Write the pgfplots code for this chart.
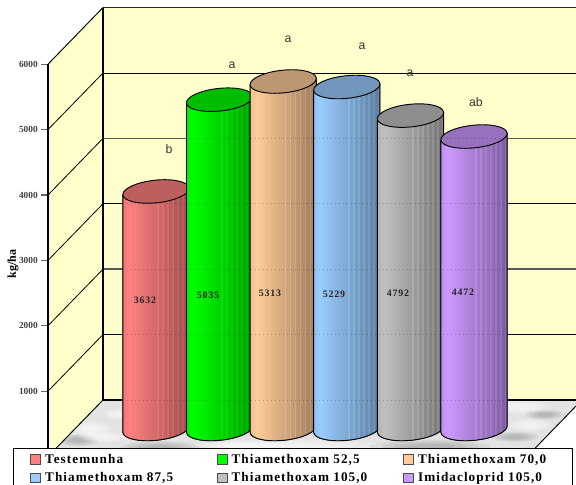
\documentclass[border=0pt]{standalone}
\usepackage{fontspec}
\setmainfont{Liberation Serif}
\newfontfamily\spaced[LetterSpace=8]{Liberation Serif}
\newfontfamily\lettersans{Liberation Sans}
\usepackage{pgfplots}
\pgfplotsset{compat=1.18}
\usepackage{pgfplotstable}

\definecolor{wall}{HTML}{FFFFCC}
\definecolor{cyl0}{HTML}{FF8080}
\definecolor{cyl1}{HTML}{00FF00}
\definecolor{cyl2}{HTML}{FFCC99}
\definecolor{cyl3}{HTML}{99CCFF}
\definecolor{cyl4}{HTML}{C0C0C0}
\definecolor{cyl5}{HTML}{CC99FF}

% Cylinder drawn from its data point; \val is the yield, \k the colour index.
% The tilted end caps are written as Bezier arcs, 27.6 units above the point.
\pgfdeclareplotmark{cylinder}{%
  \begin{scope}[x=.75pt,y=.75pt]
    \pgfmathsetmacro\yb{27.6-\val*0.0654}
    \pgfmathtruncatemacro\kk{\k}
    \begin{scope}
      \clip (-33.12,24.12) -- (-33.12,\yb-3.48)
        .. controls (-32.47,\yb-9.69) and (-17.11,\yb-13.16) .. (1.18,\yb-11.24)
        .. controls (19.47,\yb-9.32) and (33.77,\yb-2.73) .. (33.12,\yb+3.48)
        -- (33.12,31.08) -- cycle;
      \foreach \j in {0,...,39}{
        \pgfmathsetmacro\pct{\j<4 ? 94+1.5*\j : 100-1.1*(\j-4)}
        \pgfmathsetmacro\pctb{(\j>19 && mod(\j,3)==0) ? min(100,\pct+8) : \pct}
        \pgfmathsetmacro\xa{-33.3+1.665*\j}
        \fill[cyl\kk!\pctb!black] (\xa,\yb-20) rectangle (\xa+1.95,50);
      }
    \end{scope}
    \draw[black,line width=.7pt] (-33.12,24.12) -- (-33.12,\yb-3.48)
        .. controls (-32.47,\yb-9.69) and (-17.11,\yb-13.16) .. (1.18,\yb-11.24)
        .. controls (19.47,\yb-9.32) and (33.77,\yb-2.73) .. (33.12,\yb+3.48)
        -- (33.12,31.08);
    \draw[black,line width=.7pt,fill=cyl\kk!74!black] (-33.12,24.12)
        .. controls (-32.47,17.91) and (-17.11,14.44) .. (1.18,16.36)
        .. controls (19.47,18.28) and (33.77,24.87) .. (33.12,31.08)
        .. controls (32.47,37.29) and (17.11,40.76) .. (-1.18,38.84)
        .. controls (-19.47,36.92) and (-33.77,30.33) .. cycle;
  \end{scope}
}
% Yield printed at a point, above the cylinders
\pgfdeclareplotmark{yieldtext}{%
  \pgfmathtruncatemacro\vv{\val}
  \node[font=\bfseries\spaced\fontsize{7.4}{8}\selectfont,text=black!85] at (0pt,0pt) {\vv};
}
% Back grid line showing faintly through the row of cylinders
\pgfdeclareplotmark{throughline}{%
  \draw[black,opacity=.22,line width=.5pt,dash pattern=on 1pt off 2pt] (0pt,0pt) -- (288pt,0pt);
}

\pgfplotstableread{
xc    value idx
156.0 3632  0
219.6 5035  1
283.2 5313  2
346.8 5229  3
410.5 4792  4
474.0 4472  5
}\yields

% Where each yield is printed: horizontal place and wall height
\pgfplotstableread{
lx  ly      value
145 2394.5  3632
208 2471    5035
270 2501.5  5313
334 2486    5229
398 2501.5  4792
463 2517    4472
}\yieldlabels

% One soft patch of the marble floor
\newcommand\blotch[6]{%
  \fill[#5,opacity=#6] (axis cs:#1,#2) ellipse[x radius=#3*.75pt,y radius=#4*.75pt];
  \fill[#5,opacity=#6] (axis cs:#1,#2) ellipse[x radius=#3*.6pt,y radius=#4*.6pt];
  \fill[#5,opacity=#6] (axis cs:#1,#2) ellipse[x radius=#3*.45pt,y radius=#4*.45pt];
  \fill[#5,opacity=#6] (axis cs:#1,#2) ellipse[x radius=#3*.3pt,y radius=#4*.3pt];
}
% Significance letter placed by its height in the picture
\newcommand\letterlabel[3]{\node[font=\lettersans\fontsize{9.2}{10}\selectfont,text=black!80] at (axis cs:#1,{(456.6-#3)/0.0654}) {#2};}

\begin{document}
\begin{tikzpicture}[x=1pt,y=1pt]
\path[use as bounding box] (0,0) rectangle (432,363.75);
\begin{axis}[
  at={(36pt,0pt)},anchor=south west,
  scale only axis,width=396pt,height=363.75pt,
  xmin=48,xmax=576,ymin=-434.3,ymax=6981.7,
  clip=false,
  axis x line=none,
  axis y line*=left,
  y axis line style={draw=none},
  ytick={1000,2000,3000,4000,5000,6000},
  major tick length=5.2pt,
  tick style={draw=black!60,line width=.8pt},
  tick align=outside,
  /pgf/number format/assume math mode=true,
  /pgf/number format/1000 sep={},
  yticklabel style={font=\bfseries\fontsize{7}{8}\selectfont,text=black!75,xshift=1pt},
  ylabel={kg/ha},
  ylabel style={font=\bfseries\fontsize{9}{10}\selectfont,at={(axis description cs:-0.066,0.455)},anchor=center},
  legend style={
    at={(axis cs:12.5,131)},anchor=north west,
    draw=black,line width=.8pt,fill=white,
    legend columns=3,
    inner xsep=13pt,inner ysep=4.05pt,
    row sep=5.4pt,
    nodes={inner sep=0pt,anchor=west},
    font=\bfseries\spaced\fontsize{9.9}{11}\selectfont,
    /tikz/every even column/.append style={column sep=3pt},
    /tikz/every odd column/.append style={column sep=3pt},
  },
  legend cell align=left,
  legend image code/.code={\draw[#1,draw=black!70,line width=.6pt] (0pt,-3.6pt) rectangle (7.5pt,3.6pt);},
]
% Walls and floor of the box
\addplot[forget plot,fill=wall,draw=none] coordinates {(48,0)(103,866)(103,6866)(48,6000)} -- cycle;
\addplot[forget plot,fill=wall,draw=none] coordinates {(103,866)(576,866)(576,6866)(103,6866)} -- cycle;
\addplot[forget plot,fill=black!11,draw=none] coordinates {(103,866)(576,866)(576,773)(527,0)(48,0)} -- cycle;

% Marble blotches on the floor
\begin{scope}
  \clip (axis cs:103,866) -- (axis cs:576,866) -- (axis cs:576,773) -- (axis cs:527,0) -- (axis cs:48,0) -- cycle;
  \blotch{90}{420}{22}{8}{white}{.2}
  \blotch{78}{250}{20}{6}{black}{.05}
  \blotch{118}{650}{14}{5}{white}{.2}
  \blotch{105}{300}{26}{5}{white}{.2}
  \blotch{520}{760}{30}{7}{white}{.2}
  \blotch{545}{640}{20}{5}{black}{.05}
  \blotch{530}{480}{22}{6}{white}{.2}
  \blotch{515}{300}{24}{5}{black}{.05}
  \blotch{300}{130}{90}{9}{white}{.2}
  \blotch{430}{150}{60}{7}{black}{.05}
  \blotch{160}{130}{40}{7}{black}{.05}
  \blotch{240}{170}{45}{5}{white}{.2}
\end{scope}

% Grid on the side wall
\addplot[forget plot,black,line width=.6pt] coordinates {(48,1000)(103,1866)};
\addplot[forget plot,black,line width=.6pt] coordinates {(48,2000)(103,2866)};
\addplot[forget plot,black,line width=.6pt] coordinates {(48,3000)(103,3866)};
\addplot[forget plot,black,line width=.6pt] coordinates {(48,4000)(103,4866)};
\addplot[forget plot,black,line width=.6pt] coordinates {(48,5000)(103,5866)};
\addplot[forget plot,black,line width=.7pt] coordinates {(48,6000)(103,6866)};
\addplot[forget plot,black,line width=.7pt] coordinates {(48,0)(103,866)};
\addplot[forget plot,black,line width=.7pt] coordinates {(527,0)(576,773)};

% Grid on the back wall
\addplot[forget plot,black,line width=.6pt] coordinates {(103,1866)(576,1866)};
\addplot[forget plot,black!65,line width=1pt] coordinates {(103,2866)(576,2866)};
\addplot[forget plot,black,line width=.6pt] coordinates {(103,3866)(576,3866)};
\addplot[forget plot,black!65,line width=1pt] coordinates {(103,4866)(576,4866)};
\addplot[forget plot,black,line width=.6pt] coordinates {(103,5866)(576,5866)};
\addplot[forget plot,black!85,line width=1.1pt] coordinates {(103,6866)(576,6866)};
\addplot[forget plot,black,line width=1pt] coordinates {(103,866)(576,866)};

% Frame edges
\addplot[forget plot,black,line width=.8pt] coordinates {(48,0)(48,6000)};
\addplot[forget plot,black,line width=.8pt] coordinates {(103,866)(103,6866)};

% Cylinders
\addplot[forget plot,scatter,only marks,mark=cylinder,
  scatter/use mapped color={draw=black,fill=black},
  visualization depends on={\thisrow{value} \as \val},
  visualization depends on={\thisrow{idx} \as \k},
] table[x=xc,y=value] {\yields};

% Back grid showing faintly through the cylinders
\addplot[forget plot,scatter,only marks,mark=throughline,
  scatter/use mapped color={draw=black,fill=black},
] coordinates {(123,866)(123,1866)(123,2866)(123,3866)(123,4866)};

% Values on the cylinders
\addplot[forget plot,scatter,only marks,mark=yieldtext,
  scatter/use mapped color={draw=black,fill=black},
  visualization depends on={\thisrow{value} \as \val},
] table[x=lx,y=ly] {\yieldlabels};

% Significance letters
\letterlabel{169}{b}{149}
\letterlabel{232}{a}{65}
\letterlabel{288}{a}{39}
\letterlabel{362}{a}{46}
\letterlabel{410}{a}{73}
\letterlabel{476}{ab}{102}

% Legend
\addlegendimage{fill=cyl0}\addlegendentry{\makebox[125.75pt][l]{Testemunha}}
\addlegendimage{fill=cyl1}\addlegendentry{\makebox[125.75pt][l]{Thiamethoxam 52,5}}
\addlegendimage{fill=cyl2}\addlegendentry{\makebox[102.5pt][l]{Thiamethoxam 70,0}}
\addlegendimage{fill=cyl3}\addlegendentry{\makebox[125.75pt][l]{Thiamethoxam 87,5}}
\addlegendimage{fill=cyl4}\addlegendentry{\makebox[125.75pt][l]{Thiamethoxam 105,0}}
\addlegendimage{fill=cyl5}\addlegendentry{\makebox[102.5pt][l]{Imidacloprid 105,0}}
\end{axis}
\end{tikzpicture}
\end{document}
